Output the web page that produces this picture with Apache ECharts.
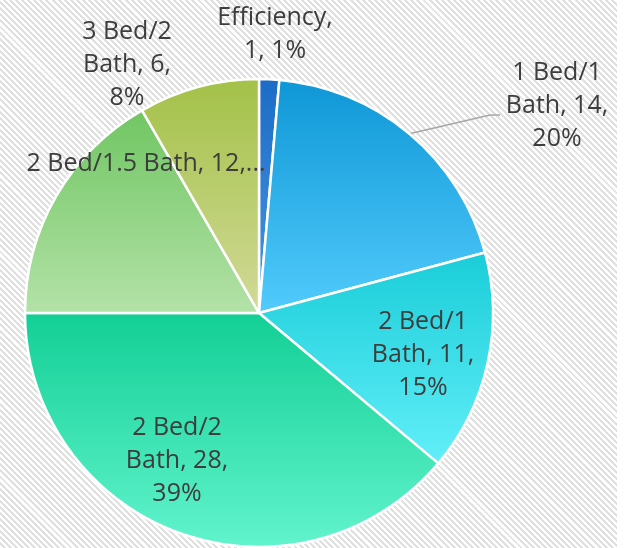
<!DOCTYPE html>
<html>
<head>
<meta charset="utf-8">
<script src="https://cdn.jsdelivr.net/npm/echarts@6/dist/echarts.min.js"></script>
<style>
  html, body { margin: 0; padding: 0; background: #ffffff; }
  #bg { position: absolute; left: 0; top: 0; width: 617px; height: 548px;
        background: repeating-linear-gradient(45deg, #ffffff 0px, #ffffff 2.2px, #e0e0e0 2.2px, #e0e0e0 4.3px); }
  #chart { position: absolute; left: 0; top: 0; width: 624px; height: 548px; }
</style>
</head>
<body>
<div id="bg"></div>
<div id="chart"></div>
<script>
// ---- data ----
const categories = ['Efficiency', '1 Bed/1 Bath', '2 Bed/1 Bath', '2 Bed/2 Bath', '2 Bed/1.5 Bath', '3 Bed/2 Bath'];
const unitCounts = [1, 14, 11, 28, 12, 6];

// ---- styles ----
const gradientStops = [
  ['#1b6cc6', '#4b97e2'],
  ['#0e97d6', '#52cbfc'],
  ['#19cdd8', '#62eff9'],
  ['#12cf95', '#62f4cd'],
  ['#70c662', '#b4e2a8'],
  ['#a3c148', '#d2da98']
];
const wrapStyle = ['two', 'three', 'three', 'three', 'trunc', 'three'];
const labelCenters = [[275, 34], [557, 106], [423, 355], [177, 461], [146, 164], [127, 65]];
const leaderEnd = [[490, 115], [500, 115]];
const CX = 259, CY = 313, R = 234;

const total = unitCounts.reduce((a, b) => a + b, 0);

const chart = echarts.init(document.getElementById('chart'), null, { renderer: 'canvas' });

const data = categories.map((name, i) => ({
  name: name,
  value: unitCounts[i],
  itemStyle: {
    color: new echarts.graphic.LinearGradient(0, 0, 0, 1, [
      { offset: 0, color: gradientStops[i][0] },
      { offset: 1, color: gradientStops[i][1] }
    ])
  },
  labelLine: { show: i === 1 }
}));

function midAngle(idx) {
  let before = 0;
  for (let k = 0; k < idx; k++) before += unitCounts[k];
  return ((before + unitCounts[idx] / 2) / total) * Math.PI * 2;
}

chart.setOption({
  animation: false,
  backgroundColor: 'transparent',
  series: [{
    type: 'pie',
    center: [CX, CY],
    radius: R,
    startAngle: 90,
    clockwise: true,
    percentPrecision: 0,
    silent: true,
    avoidLabelOverlap: false,
    itemStyle: { borderColor: '#ffffff', borderWidth: 2.5 },
    label: {
      show: true,
      position: 'outside',
      color: '#3d3d3d',
      fontFamily: 'Open Sans',
      fontSize: 25,
      lineHeight: 33,
      align: 'center',
      formatter: function (p) {
        const s = wrapStyle[p.dataIndex];
        if (s === 'two') return p.name + ',\n' + p.value + ', ' + p.percent + '%';
        if (s === 'trunc') return p.name + ', ' + p.value + ',...';
        return p.name.replace(' Bath', '\nBath') + ', ' + p.value + ',\n' + p.percent + '%';
      }
    },
    labelLine: {
      show: false,
      length: 20,
      length2: 20,
      lineStyle: { color: '#a6a6a6', width: 1.5 }
    },
    labelLayout: function (params) {
      const i = params.dataIndex;
      const out = {
        x: labelCenters[i][0],
        y: labelCenters[i][1],
        align: 'center',
        verticalAlign: 'middle'
      };
      if (i === 1) {
        const a = midAngle(i);
        const p0 = [CX + R * Math.sin(a), CY - R * Math.cos(a)];
        out.labelLinePoints = [p0, leaderEnd[0], leaderEnd[1]];
      }
      return out;
    },
    data: data
  }]
});
</script>
</body>
</html>
